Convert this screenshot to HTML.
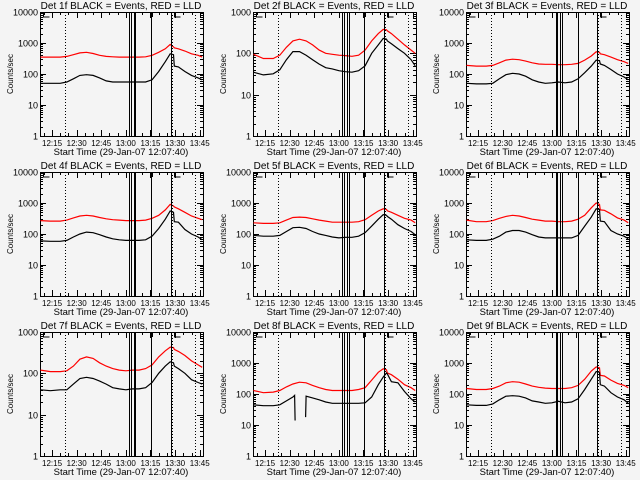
<!DOCTYPE html>
<html><head><meta charset="utf-8"><style>
html,body{margin:0;padding:0;background:#f4f4f4;}
svg{display:block;font-family:"Liberation Sans",sans-serif;}
</style></head><body>
<svg id="fig" width="640" height="480" viewBox="0 0 640 480"></svg>
<script>
const T = [8,14,20,24,28,32,36,40,44,48,52,56,60,64,68,72,76,80,84,87,89,89.5,92,96,100,104,106.5];
const T8black = [8,14,20,24,28,32,33,33.3,33.5,39.7,40,44,48,52,56,60,64,68,72,76,80,84,87,89,89.5,92,96,100,104,106.5];
const detNames = ["1f","2f","3f","4f","5f","6f","7f","8f","9f"];
const yDecades = [4,3,4,4,4,4,3,4,4];
const black1 = [50,50,50,55,70,90,95,90,75,60,55,55,55,55,55,55,65,120,250,450,420,180,170,120,90,75,65];
const red1 = [350,350,350,370,420,480,500,460,400,370,360,350,350,350,350,360,400,500,650,900,750,700,650,550,450,400,350];
const black2 = [35,30,32,40,70,110,110,90,70,55,45,42,38,36,35,38,50,100,160,230,220,200,170,130,100,70,50];
const red2 = [95,75,75,90,140,200,220,200,160,120,100,95,90,88,85,90,120,200,300,380,370,350,300,220,160,120,100];
const black3 = [50,48,48,50,70,95,105,100,85,65,55,50,52,55,52,55,70,110,180,280,270,210,190,140,100,80,65];
const red3 = [190,180,180,190,230,280,300,290,260,230,210,205,205,200,200,205,220,280,380,520,500,450,420,350,290,250,220];
const black4 = [60,58,58,62,80,100,115,110,95,80,70,65,62,62,62,65,85,150,300,550,500,250,240,140,100,80,65];
const red4 = [270,260,260,280,330,380,400,380,340,310,290,280,270,270,270,280,320,400,600,900,800,750,650,500,380,320,290];
const black5 = [90,85,85,90,120,160,165,150,120,100,90,80,75,78,78,85,110,180,300,420,400,370,300,200,150,120,95];
const red5 = [230,220,220,230,280,340,350,340,310,280,260,240,240,240,240,250,290,400,550,650,620,560,500,400,320,280,230];
const black6 = [65,62,62,68,85,115,130,130,115,95,80,75,75,75,75,75,90,180,350,650,620,260,250,130,100,85,70];
const red6 = [280,250,250,270,320,370,400,380,340,300,280,260,260,250,250,260,300,400,700,1000,900,600,580,450,330,280,230];
const black7 = [40,38,40,40,55,75,80,75,65,55,45,42,40,42,42,45,60,100,150,190,180,150,130,100,70,60,55];
const red7 = [120,110,110,115,150,220,250,230,180,150,130,120,115,120,120,130,160,250,350,430,420,380,340,270,200,160,140];
const black8 = [45,42,42,45,60,80,90,14,null,18,85,75,65,55,50,50,50,50,50,52,80,200,350,480,450,250,230,120,70,55];
const red8 = [130,110,115,130,170,210,240,230,190,160,140,130,130,130,130,140,160,280,500,650,600,480,420,300,200,160,130];
const black9 = [45,43,43,48,65,85,88,85,75,60,55,50,52,58,52,55,70,140,300,530,500,200,180,110,80,65,50];
const red9 = [150,140,140,150,180,230,250,240,210,180,165,155,150,150,150,160,190,300,550,750,700,400,380,280,220,190,160];
const blacks = [black1,black2,black3,black4,black5,black6,black7,black8,black9];
const reds = [red1,red2,red3,red4,red5,red6,red7,red8,red9];
const vlinesA = [62.0,63.0,65.0,65.4,75.2,87.7];
const vlinesB = [62.0,63.2,65.0,66.2,75.3,87.7];
const vlinesC = [62.8,63.3,65.0,66.2,76.0,87.7];
const dotLines = [22.9,88.3,102.4];
const xTickLabels = ["12:15","12:30","12:45","13:00","13:15","13:30","13:45"];
const xTickMins = [15,30,45,60,75,90,105];

const NS="http://www.w3.org/2000/svg";
const fig=document.getElementById('fig');
function el(tag,attrs,parent){const e=document.createElementNS(NS,tag);for(const k in attrs)e.setAttribute(k,attrs[k]);(parent||fig).appendChild(e);return e;}

const L=40,R=203,TOP=12,BOT=136,M0=7.67,MEND=107;
for(let p=0;p<9;p++){
  const ox=(p%3)*213, oy=Math.floor(p/3)*160;
  const g=el('g',{transform:`translate(${ox},${oy})`});
  
  
  const dec=yDecades[p];
  const xs=m=>L+(m-M0)*(R-L)/(MEND-M0);
  const ys=v=>BOT-Math.log10(v)*(BOT-TOP)/dec;
  const fr=el('rect',{x:L+0.5,y:TOP+0.5,width:R-L,height:BOT-TOP,fill:'none',stroke:'#000','stroke-width':1},g);
  
  
  for(let d=0;d<=dec;d++){
    const y=Math.round(ys(Math.pow(10,d)))+0.5;
    el('line',{x1:L,x2:L+6,y1:y,y2:y,stroke:'#000'},g);
    el('line',{x1:R-6,x2:R,y1:y,y2:y,stroke:'#000'},g);
    const t=el('text',{x:L-2,y:y+3,'font-size':9,'text-anchor':'end',fill:'#000'},g);
    t.textContent=String(Math.pow(10,d));
    
    
    if(d<dec)for(let k=2;k<10;k++){
      const yy=Math.round(ys(k*Math.pow(10,d)))+0.5;
      el('line',{x1:L,x2:L+3,y1:yy,y2:yy,stroke:'#000'},g);
      el('line',{x1:R-3,x2:R,y1:yy,y2:yy,stroke:'#000'},g);
    }
  }
  for(let m=10;m<=105;m+=5){
    const x=Math.round(xs(m))+0.5, major=m%15===0;
    el('line',{x1:x,x2:x,y1:BOT,y2:BOT-(major?6:3),stroke:'#000'},g);
    el('line',{x1:x,x2:x,y1:TOP,y2:TOP+(major?6:3),stroke:'#000'},g);
  }
  xTickMins.forEach((m,i)=>{
    const t=el('text',{x:xs(m),y:146,'font-size':8,'text-anchor':'middle',fill:'#000'},g);
    t.textContent=xTickLabels[i];
    
    
  });
  const xl=el('text',{x:121,y:155,'font-size':9.5,'text-anchor':'middle',fill:'#000'},g);
  xl.textContent='Start Time (29-Jan-07 12:07:40)';
  
  
  const yl=el('text',{x:0,y:0,'font-size':8,'text-anchor':'middle',fill:'#000',transform:`translate(13,74) rotate(-90)`},g);
  yl.textContent='Counts/sec';
  
  
  const tt=el('text',{x:121,y:9,'font-size':10,'text-anchor':'middle',fill:'#000'},g);
  tt.textContent='Det '+detNames[p]+' BLACK = Events, RED = LLD';
  
  
  function series(tArr,vals,color,name){
    let d='',pen=false;
    for(let i=0;i<vals.length;i++){
      if(vals[i]==null){pen=false;continue;}
      d+=(pen?'L':'M')+xs(tArr[i]).toFixed(1)+' '+ys(vals[i]).toFixed(1)+' ';pen=true;
    }
    const pa=el('path',{d:d,fill:'none',stroke:color,'stroke-width':1.2},g);
    
    
  }
  series(T,reds[p],'#ff0000','lld-series');
  series(p===7?T8black:T,blacks[p],'#000','events-series');
  const vl=[vlinesA,vlinesB,vlinesC][p%3];
  vl.forEach(m=>{const x=Math.round(xs(m))+0.5;
    const ln=el('line',{x1:x,x2:x,y1:TOP,y2:BOT,stroke:'#000'},g);
    
    });
  dotLines.forEach(m=>{const x=Math.round(xs(m))+0.5;
    const ln=el('line',{x1:x,x2:x,y1:TOP,y2:BOT,stroke:'#000','stroke-dasharray':'1,2'},g);
    
    });
  [L+3,xs(88.3)+2].forEach(x=>{x=Math.round(x)+0.5;
    el('path',{d:`M${x} ${TOP} L${x} ${TOP+5} L${x+6} ${TOP+5}`,fill:'none',stroke:'#000'},g);});
  const xm=Math.round(xs(76.2))+0.5;
  el('line',{x1:xm,x2:xm,y1:TOP,y2:TOP+5,stroke:'#000'},g);
}
</script>
</body></html>
